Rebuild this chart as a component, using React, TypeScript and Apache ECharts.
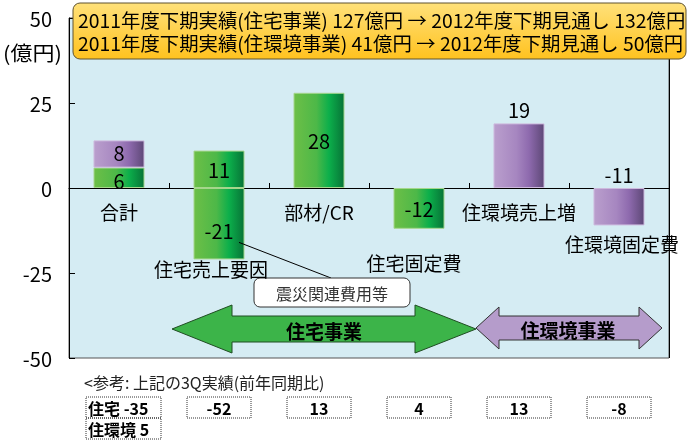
import React, { useEffect, useRef } from 'react';
import * as echarts from 'echarts';

const categories = ['合計', '住宅売上要因', '部材/CR', '住宅固定費', '住環境売上増', '住環境固定費'];
const housingValues = [6, 11, 28, -12, null, null];
const housingSalesDownValues = [null, -21, null, null, null, null];
const environmentValues = [8, null, null, null, 19, -11];
const yMin = -50;
const yMax = 50;
const yInterval = 25;
const unitLabel = '(億円)';
const calloutLines = [
  '2011年度下期実績(住宅事業) 127億円 → 2012年度下期見通し 132億円',
  '2011年度下期実績(住環境事業) 41億円 → 2012年度下期見通し 50億円',
];
const noteText = '震災関連費用等';
const housingBusiness = '住宅事業';
const environmentBusiness = '住環境事業';
const referenceTitle = '<参考: 上記の3Q実績(前年同期比)';
const ref3QHousingTotal = -35;
const ref3QEnvironmentTotal = 5;
const ref3QValues = [null, -52, 13, 4, 13, -8];

const FONT = '"Noto Sans CJK JP", "Noto Sans", sans-serif';

// layout offsets (pixels) for category labels relative to the category centre on the zero line
const catLabelOffset: Record<string, [number, number]> = {
  '合計': [0, 23],
  '住宅売上要因': [-8, 80],
  '部材/CR': [0, 23],
  '住宅固定費': [-5, 74],
  '住環境売上増': [0, 23],
  '住環境固定費': [3, 55],
};

const greenGrad = () =>
  new echarts.graphic.LinearGradient(0, 0, 1, 0, [
    { offset: 0, color: '#6DBF47' },
    { offset: 0.45, color: '#4DB848' },
    { offset: 0.7, color: '#0CAF4B' },
    { offset: 1, color: '#077437' },
  ]);
const purpleGrad = () =>
  new echarts.graphic.LinearGradient(0, 0, 1, 0, [
    { offset: 0, color: '#BA9FCD' },
    { offset: 0.45, color: '#A686C0' },
    { offset: 0.7, color: '#8E6AAE' },
    { offset: 1, color: '#5E4877' },
  ]);

const labelStyle = {
  show: true,
  fontFamily: FONT,
  fontSize: 20,
  lineHeight: 20,
  color: '#000',
  distance: 4,
  formatter: (p: any) => String(p.value),
};

type LabelCfg = { position?: string; offset?: [number, number] };

function toData(arr: (number | null)[], cfg?: Record<number, LabelCfg>) {
  return arr.map((v, i) => {
    if (v === null) return '-';
    const c = (cfg && cfg[i]) || {};
    return { value: v, label: { position: c.position || 'inside', offset: c.offset || [0, 0] } };
  });
}

export default function App() {
  const ref = useRef<HTMLDivElement>(null);
  useEffect(() => {
    const chart = echarts.init(ref.current!, null, { renderer: 'svg' });
    const option: any = {
      animation: false,
      textStyle: { fontFamily: FONT },
      grid: {
        left: 69,
        right: 23,
        top: 18,
        bottom: 83,
        show: true,
        backgroundColor: '#D5ECF3',
        borderColor: '#555',
        borderWidth: 1,
      },
      xAxis: {
        type: 'category',
        data: categories,
        axisLine: { onZero: true, lineStyle: { color: '#000', width: 1 } },
        axisTick: { show: true, inside: true, length: 5, lineStyle: { color: '#000' } },
        splitLine: {
          show: true,
          interval: (i: number) => i === 1,
          lineStyle: { color: '#000', width: 1 },
        },
        axisLabel: { show: false },
      },
      yAxis: {
        type: 'value',
        min: yMin,
        max: yMax,
        interval: yInterval,
        axisLine: { show: true, lineStyle: { color: '#000' } },
        axisTick: { show: true, inside: true, length: 6, lineStyle: { color: '#000' } },
        splitLine: { show: false },
        axisLabel: { fontFamily: FONT, fontSize: 20, color: '#000', margin: 17 },
      },
      series: [
        {
          name: '住宅',
          type: 'bar',
          stack: 'total',
          barWidth: 51,
          data: toData(housingValues, { 0: { offset: [0, 3] } }),
          itemStyle: { color: greenGrad(), borderColor: '#A5D68C', borderWidth: 1 },
          label: labelStyle,
        },
        {
          name: '住宅売上減',
          type: 'bar',
          stack: 'total',
          barWidth: 51,
          data: toData(housingSalesDownValues, { 1: { offset: [0, 7] } }),
          itemStyle: { color: greenGrad(), borderColor: '#A5D68C', borderWidth: 1 },
          label: labelStyle,
        },
        {
          name: '住環境',
          type: 'bar',
          stack: 'total',
          barWidth: 51,
          data: toData(environmentValues, { 0: { offset: [0, -2] }, 4: { position: 'top' }, 5: { position: 'top' } }),
          itemStyle: { color: purpleGrad(), borderColor: '#CDB9DD', borderWidth: 1 },
          label: labelStyle,
        },
      ],
    };
    chart.setOption(option);

    const cx = (c: string) => chart.convertToPixel({ xAxisIndex: 0 }, c) as number;
    const py = (v: number) => chart.convertToPixel({ yAxisIndex: 0 }, v) as number;

    const graphics: any[] = [];
    // category labels
    const y0 = py(0);
    categories.forEach((c) => {
      const [dx, dy] = catLabelOffset[c];
      graphics.push({
        type: 'text',
        z: 60,
        x: cx(c) + dx,
        y: y0 + dy,
        style: { text: c, font: `19px ${FONT}`, fill: '#000', align: 'center', verticalAlign: 'middle' },
      });
    });
    // unit label
    graphics.push({
      type: 'text',
      x: 3,
      y: 52,
      scaleX: 1.1,
      style: { text: unitLabel, font: `20px ${FONT}`, fill: '#000', verticalAlign: 'middle' },
    });
    // callout
    graphics.push({
      type: 'rect',
      z: 100,
      shape: { x: 73, y: 3, width: 613, height: 56, r: 7 },
      style: {
        fill: new echarts.graphic.LinearGradient(0, 0, 0, 1, [
          { offset: 0, color: '#FFE17A' },
          { offset: 1, color: '#FFC21F' },
        ]),
        stroke: '#5E5230',
        lineWidth: 1,
      },
    });
    calloutLines.forEach((t, i) => {
      graphics.push({
        type: 'text',
        z: 101,
        x: 78,
        y: 20 + i * 23,
        scaleX: 1.02,
        style: { text: t, font: `19px ${FONT}`, fill: '#000', verticalAlign: 'middle' },
      });
    });
    // leader line + note
    const x1 = cx(categories[1]);
    graphics.push({
      type: 'line',
      z: 50,
      shape: { x1: x1 + 20, y1: py(-16), x2: 331, y2: 278 },
      style: { stroke: '#000', lineWidth: 1 },
    });
    graphics.push({
      type: 'rect',
      z: 50,
      shape: { x: 254, y: 278, width: 156, height: 29, r: 6 },
      style: { fill: '#fff', stroke: '#333', lineWidth: 1 },
    });
    graphics.push({
      type: 'text',
      z: 51,
      x: 332,
      y: 293,
      style: { text: noteText, font: `16px ${FONT}`, fill: '#333', align: 'center', verticalAlign: 'middle' },
    });
    // arrows
    const arrow = (l: number, lb: number, rb: number, r: number, cy: number, hh: number, sh: number) => [
      [l, cy], [lb, cy - hh], [lb, cy - sh], [rb, cy - sh], [rb, cy - hh], [r, cy],
      [rb, cy + hh], [rb, cy + sh], [lb, cy + sh], [lb, cy + hh],
    ];
    graphics.push({
      type: 'polygon',
      z: 50,
      shape: { points: arrow(172, 232, 415, 476, 329, 24, 13) },
      style: { fill: '#3CB449', stroke: '#1F4D22', lineWidth: 1 },
    });
    graphics.push({
      type: 'text',
      z: 51,
      x: 324,
      y: 330,
      style: { text: housingBusiness, font: `bold 19px ${FONT}`, fill: '#000', align: 'center', verticalAlign: 'middle' },
    });
    graphics.push({
      type: 'polygon',
      z: 50,
      shape: { points: arrow(476, 499, 639, 662, 328, 21, 12) },
      style: { fill: '#B59CCB', stroke: '#333', lineWidth: 1 },
    });
    graphics.push({
      type: 'text',
      z: 51,
      x: 568,
      y: 329,
      style: { text: environmentBusiness, font: `bold 19px ${FONT}`, fill: '#000', align: 'center', verticalAlign: 'middle' },
    });
    // reference section
    graphics.push({
      type: 'text',
      x: 84,
      y: 382,
      style: { text: referenceTitle, font: `16px ${FONT}`, fill: '#222', verticalAlign: 'middle' },
    });
    const box = (x: number, y: number, w: number, h: number, text: string, align: string) => {
      graphics.push({
        type: 'rect',
        shape: { x, y, width: w, height: h },
        style: { fill: 'none', stroke: '#333', lineWidth: 1, lineDash: [1, 1] },
      });
      graphics.push({
        type: 'text',
        x: align === 'center' ? x + w / 2 : x + 2,
        y: y + h / 2,
        style: { text, font: `bold 16px ${FONT}`, lineHeight: 18, fill: '#000', align: align, verticalAlign: 'middle' },
      });
    };
    box(86, 397, 75, 21, `住宅 ${ref3QHousingTotal}`, 'left');
    box(86, 418, 75, 21, `住環境 ${ref3QEnvironmentTotal}`, 'left');
    ref3QValues.forEach((v, i) => {
      if (v === null) return;
      const c = cx(categories[i]);
      box(c - 32, 397, 64, 21, String(v), 'center');
    });
    chart.setOption({ graphic: graphics });
    return () => chart.dispose();
  }, []);
  return <div ref={ref} style={{ position: 'fixed', left: 0, top: 0, width: 692, height: 441 }} />;
}
